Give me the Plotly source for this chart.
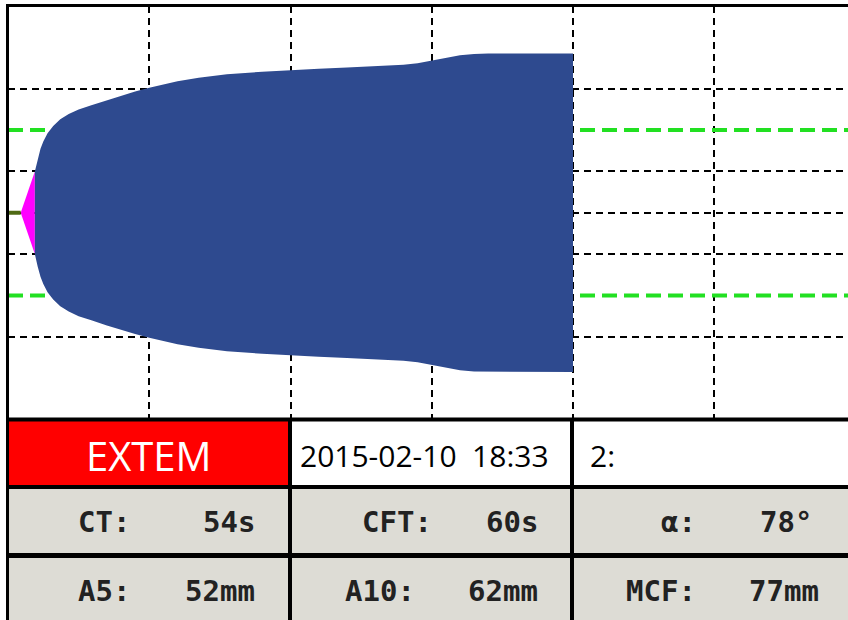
import plotly.graph_objects as go

W, H = 848, 620

# ---- header / result fields -------------------------------------------
assay = "EXTEM"
run_stamp = "2015-02-10\u00a0\u00a018:33"
channel = "2:"
row2_labels = ["CT:", "CFT:", "α:"]
row2_values = ["54s", "60s", "78°"]
row3_labels = ["A5:", "A10:", "MCF:"]
row3_values = ["52mm", "62mm", "77mm"]

ct_s = 54
cft_s = 60

# ---- clot firmness trace: time (min) vs amplitude (mm) -----------------
time_min = [1.9, 2.1, 2.3, 2.5, 2.8, 3.2, 3.7, 4.3, 5.0, 5.9, 7.0, 8.0,
            9.0, 10.0, 10.9, 12.0, 13.5, 15.5, 18.0, 20.0, 22.0, 24.0,
            26.0, 28.0, 29.0, 30.0, 31.0, 32.0, 33.0, 34.0, 36.0, 38.0, 40.0]
amp_mm = [20, 26, 31, 34.5, 38.5, 42, 45.2, 47.8, 50, 52, 54.5, 56.7,
          58.7, 60.5, 62, 63.6, 65.3, 67, 68.2, 69, 69.6, 70.2,
          70.8, 71.6, 72.3, 73.5, 75, 76.2, 76.8, 77, 77, 77, 77]
ref_amp_mm = 40          # reference band (full amplitude)

x_grid = [10, 20, 30, 40, 50]
y_grid = [-30, -10, 0, 10, 30]

# ---- colours -------------------------------------------------------------
BLUE = "#2e4a8f"
MAGENTA = "#ff00ff"
OLIVE = "#4f6a14"
REF_GREEN = "#22e022"
RED = "#ff0000"
CELL_GRAY = "#dddcd5"
TEXT_DARK = "#222222"

ct_min = ct_s / 60
cft_end = ct_min + cft_s / 60
x_max = 59.47

fig = go.Figure()

# reference band lines
for sgn in (1, -1):
    fig.add_trace(go.Scatter(
        x=[0, x_max], y=[sgn * ref_amp_mm / 2] * 2, mode="lines",
        line=dict(color=REF_GREEN, width=4, dash="15px,7px"),
        hoverinfo="skip", showlegend=False))

# baseline until clotting time
fig.add_trace(go.Scatter(
    x=[0, ct_min], y=[0, 0], mode="lines",
    line=dict(color=OLIVE, width=4), hoverinfo="skip", showlegend=False))

# clot formation phase (CT -> CT+CFT)
half0 = amp_mm[0] / 2
fig.add_trace(go.Scatter(
    x=[ct_min, cft_end, cft_end, ct_min], y=[0, half0, -half0, 0],
    mode="lines", fill="toself", fillcolor=MAGENTA,
    line=dict(width=0, color=MAGENTA), hoverinfo="skip", showlegend=False))

# amplitude envelope (symmetric about the baseline)
env_x = time_min + time_min[::-1]
env_y = [a / 2 for a in amp_mm] + [-a / 2 for a in amp_mm[::-1]]
fig.add_trace(go.Scatter(
    x=env_x, y=env_y, mode="lines", fill="toself", fillcolor=BLUE,
    line=dict(width=0, color=BLUE), hoverinfo="skip", showlegend=False))


def px(x):
    return x / W


def py(y):
    return 1 - y / H


shapes = []
# table cells
shapes.append(dict(type="rect", xref="paper", yref="paper",
                   x0=px(8), x1=px(290), y0=py(419.5), y1=py(487),
                   fillcolor=RED, line=dict(width=0), layer="below"))
shapes.append(dict(type="rect", xref="paper", yref="paper",
                   x0=px(8), x1=px(W), y0=py(487), y1=py(H),
                   fillcolor=CELL_GRAY, line=dict(width=0), layer="below"))
# table rules
for yy, w in ((419.5, 4), (487, 4), (555.5, 5)):
    shapes.append(dict(type="line", xref="paper", yref="paper",
                       x0=px(6), x1=px(W), y0=py(yy), y1=py(yy),
                       line=dict(color="black", width=w)))
for xx in (290, 572):
    shapes.append(dict(type="line", xref="paper", yref="paper",
                       x0=px(xx), x1=px(xx), y0=py(419.5), y1=py(H),
                       line=dict(color="black", width=4)))
# frame
shapes.append(dict(type="line", xref="paper", yref="paper",
                   x0=px(7.5), x1=px(7.5), y0=py(4), y1=py(H),
                   line=dict(color="black", width=3)))
shapes.append(dict(type="line", xref="paper", yref="paper",
                   x0=px(6), x1=px(W), y0=py(5.5), y1=py(5.5),
                   line=dict(color="black", width=3)))

ann = []
ann.append(dict(text=assay, x=px(149), y=py(455), xref="paper", yref="paper",
                xanchor="center", yanchor="middle", showarrow=False,
                font=dict(family="Open Sans", size=40, color="white")))
ann.append(dict(text=run_stamp, x=px(425), y=py(455), xref="paper", yref="paper",
                xanchor="center", yanchor="middle", showarrow=False,
                font=dict(family="Open Sans", size=30, color="black")))
ann.append(dict(text=channel, x=px(588), y=py(455), xref="paper", yref="paper",
                xanchor="left", yanchor="middle", showarrow=False,
                font=dict(family="Open Sans", size=30, color="black")))

mono = dict(family="DejaVu Sans Mono", size=29, color=TEXT_DARK, weight="bold")
label_right = [[132, 434, 698], [132, 417, 698]]
value_right = [[257, 540, 814], [257, 540, 821]]
for r, (labels, values, ycen) in enumerate(((row2_labels, row2_values, 522),
                                            (row3_labels, row3_values, 591))):
    for c in range(3):
        ann.append(dict(text=labels[c], x=px(label_right[r][c]), y=py(ycen),
                        xref="paper", yref="paper", xanchor="right",
                        yanchor="middle", showarrow=False, font=mono))
        ann.append(dict(text=values[c], x=px(value_right[r][c]), y=py(ycen),
                        xref="paper", yref="paper", xanchor="right",
                        yanchor="middle", showarrow=False, font=mono))

grid_style = dict(showgrid=True, gridcolor="black", gridwidth=2,
                  griddash="7px,5px", showticklabels=False, ticks="",
                  zeroline=False, showline=False, fixedrange=True)

fig.update_layout(
    width=W, height=H, margin=dict(l=0, r=0, t=0, b=0),
    paper_bgcolor="white", plot_bgcolor="white", showlegend=False,
    xaxis=dict(domain=[8 / W, 1], range=[0, x_max], tickvals=x_grid, **grid_style),
    yaxis=dict(domain=[(H - 419.5) / H, (H - 6) / H], range=[-50, 50],
               tickvals=y_grid, **grid_style),
    shapes=shapes, annotations=ann,
)

fig.write_html("out.html")
